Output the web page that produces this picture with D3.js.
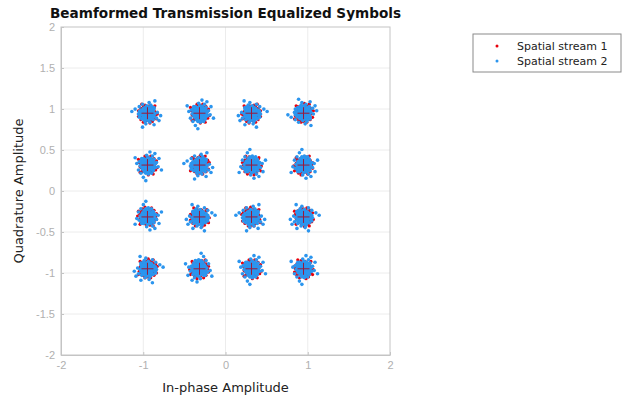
<!DOCTYPE html>
<html lang="en">
<head>
<meta charset="UTF-8">
<title>Beamformed Transmission Equalized Symbols</title>
<style>
  body { margin: 0; background: #fff; }
  svg { font-family: "DejaVu Sans", sans-serif; }
  .tick text { fill: #b0b0b0; font-size: 11px; }
</style>
</head>
<body>
<svg width="622" height="398"></svg>
<script src="https://d3js.org/d3.v7.min.js"></script>
<script>
// ideal 16-QAM points (I and Q levels)
var levels = [-0.9487, -0.3162, 0.3162, 0.9487];
var xTicks = [-2, -1, 0, 1, 2];
var yTicks = [-2, -1.5, -1, -0.5, 0, 0.5, 1, 1.5, 2];
var seriesNames = ["Spatial stream 1", "Spatial stream 2"];

// scatter around each ideal point, in hundredths
var stream1Offsets = [[3,-2],[-5,4],[6,5],[-2,-7],[1,8],[-7,-1],[4,-6],[8,2],[-4,7],[0,-3],
  [5,9],[-8,-5],[2,3],[-3,-9],[7,-4],[-6,6],[9,-1],[-1,1],[4,4],[-9,2],
  [3,-8],[-5,-4],[6,-7],[-2,9],[10,6],[-7,8],[1,-5],[8,-8],[-4,-2],[2,10],
  [-10,-3],[5,1],[-3,5],[7,7],[0,-10],[-6,-8],[9,4],[-8,3],[3,6],[-1,-6],
  [6,-2],[-5,1],[11,-5],[-3,-11],[4,-11],[-9,9],[1,12],[12,3],[-11,-7],[7,11]];
var stream2Offsets = [[0,0],[2,-1],[-3,2],[4,3],[-1,-4],[5,-2],[-4,-3],[1,5],[-5,4],[3,-5],
  [-2,6],[6,1],[-6,-1],[0,7],[7,-4],[-3,-7],[2,2],[-2,-2],[4,-8],[-7,3],
  [8,4],[-4,8],[1,-9],[6,6],[-8,-5],[3,9],[-1,3],[5,-6],[-5,-8],[9,-1],
  [-9,1],[2,-3],[-6,5],[7,7],[-2,10],[10,3],[-10,-4],[4,0],[0,-6],[-4,1],
  [3,4],[-3,-5],[8,-7],[-7,-8],[5,10],[11,-3],[-11,6],[1,11],[-1,-12],[13,2],
  [-13,-2],[6,-11],[-8,10],[14,-8],[-5,15],[3,-16],[-15,-9],[17,6],[-2,19],[9,-14],
  [1,1],[-1,-1],[3,0],[-3,0],[0,3],[0,-3],[2,4],[-2,-4],[4,-2],[-4,2],
  [5,3],[-5,-3],[3,-3],[-3,3],[6,-4],[-6,3],[1,-7],[-1,7],[7,2],[-7,-2],
  [2,6],[-2,-6],[5,5],[-5,-5],[6,-1],[-6,1],[0,8],[0,-8],[8,0],[-8,0]];
// orientation of the scatter per cluster (quarter turns, mirror)
var clusterTurn = [0, 1, 2, 3, 1, 3, 0, 2, 2, 0, 3, 1, 3, 2, 1, 0];
var clusterMirror = [0, 1, 1, 0, 0, 0, 1, 1, 1, 0, 0, 1, 0, 1, 1, 0];

var svg = d3.select("svg"),
    margin = {top: 27, left: 61},
    width = 329, height = 328;

var x = d3.scaleLinear().domain([-2, 2]).range([margin.left, margin.left + width]);
var y = d3.scaleLinear().domain([-2, 2]).range([margin.top + height, margin.top]);

function orient(o, k) {
  var a = o[0] / 100, b = o[1] / 100, t;
  if (clusterMirror[k]) a = -a;
  for (var r = 0; r < clusterTurn[k]; r++) { t = a; a = -b; b = t; }
  return [a, b];
}

var pts1 = [], pts2 = [], ideal = [];
levels.forEach(function (qi, j) {
  levels.forEach(function (ii, i) {
    var k = j * 4 + i;
    ideal.push([ii, qi]);
    stream1Offsets.forEach(function (o) { var p = orient(o, k); pts1.push([ii + p[0], qi + p[1]]); });
    stream2Offsets.forEach(function (o) { var p = orient(o, (k + 5) % 16); pts2.push([ii + p[0], qi + p[1]]); });
  });
});

// grid
svg.append("g").selectAll("line").data(xTicks.slice(1, -1)).join("line")
    .attr("x1", d => x(d)).attr("x2", d => x(d))
    .attr("y1", y(-2)).attr("y2", y(2))
    .attr("stroke", "#ececec");
svg.append("g").selectAll("line").data(yTicks.slice(1, -1)).join("line")
    .attr("y1", d => y(d)).attr("y2", d => y(d))
    .attr("x1", x(-2)).attr("x2", x(2))
    .attr("stroke", "#ececec");

// axes
var xAxis = d3.axisBottom(x).tickValues(xTicks).tickFormat(d3.format("")).tickSizeInner(-3).tickSizeOuter(0).tickPadding(6);
var yAxis = d3.axisLeft(y).tickValues(yTicks).tickFormat(d3.format("")).tickSizeInner(-3).tickSizeOuter(0).tickPadding(6);
var gx = svg.append("g").attr("transform", "translate(0," + y(-2) + ")").call(xAxis);
var gy = svg.append("g").attr("transform", "translate(" + x(-2) + ",0)").call(yAxis);
[gx, gy].forEach(function (g) {
  g.select(".domain").attr("stroke", "#c4c4c4");
  g.selectAll(".tick line").attr("stroke", "#c4c4c4");
  g.selectAll(".tick text").text(function (d) { return d < 0 ? "-" + Math.abs(d) : d; });
});
svg.append("rect").attr("x", x(-2)).attr("y", y(2)).attr("width", width).attr("height", height)
    .attr("fill", "none").attr("stroke", "#c4c4c4");

// points
svg.append("g").selectAll("circle").data(pts1).join("circle")
    .attr("cx", d => x(d[0])).attr("cy", d => y(d[1])).attr("r", 1.6)
    .attr("fill", "#e8000b");
svg.append("g").selectAll("circle").data(pts2).join("circle")
    .attr("cx", d => x(d[0])).attr("cy", d => y(d[1])).attr("r", 1.8)
    .attr("fill", "#2b95ee");

// ideal crosses
var cross = svg.append("g").attr("stroke", "#9a1a3a").attr("stroke-width", 1);
cross.selectAll("line.h").data(ideal).join("line").attr("class", "h")
    .attr("x1", d => x(d[0]) - 6).attr("x2", d => x(d[0]) + 6)
    .attr("y1", d => y(d[1])).attr("y2", d => y(d[1]));
cross.selectAll("line.v").data(ideal).join("line").attr("class", "v")
    .attr("x1", d => x(d[0])).attr("x2", d => x(d[0]))
    .attr("y1", d => y(d[1]) - 6).attr("y2", d => y(d[1]) + 6);

// titles
svg.append("text").attr("x", x(0)).attr("y", 18).attr("text-anchor", "middle")
    .attr("font-size", "13.6px").attr("font-weight", "bold").attr("fill", "#111")
    .text("Beamformed Transmission Equalized Symbols");
svg.append("text").attr("x", x(0)).attr("y", 392).attr("text-anchor", "middle")
    .attr("font-size", "13px").attr("fill", "#222").text("In-phase Amplitude");
svg.append("text").attr("transform", "translate(23," + y(0) + ") rotate(-90)")
    .attr("text-anchor", "middle").attr("font-size", "13px").attr("fill", "#222")
    .text("Quadrature Amplitude");

// legend
var legend = svg.append("g").attr("transform", "translate(473,34)");
legend.append("rect").attr("width", 148).attr("height", 38)
    .attr("fill", "#fff").attr("stroke", "#8a8a8a");
var colors = ["#e8000b", "#2b95ee"];
seriesNames.forEach(function (name, i) {
  legend.append("circle").attr("cx", 24).attr("cy", 12 + i * 15).attr("r", 1.5).attr("fill", colors[i]);
  legend.append("text").attr("x", 44).attr("y", 16 + i * 15).attr("font-size", "11px")
      .attr("fill", "#222").text(name);
});
</script>
</body>
</html>
